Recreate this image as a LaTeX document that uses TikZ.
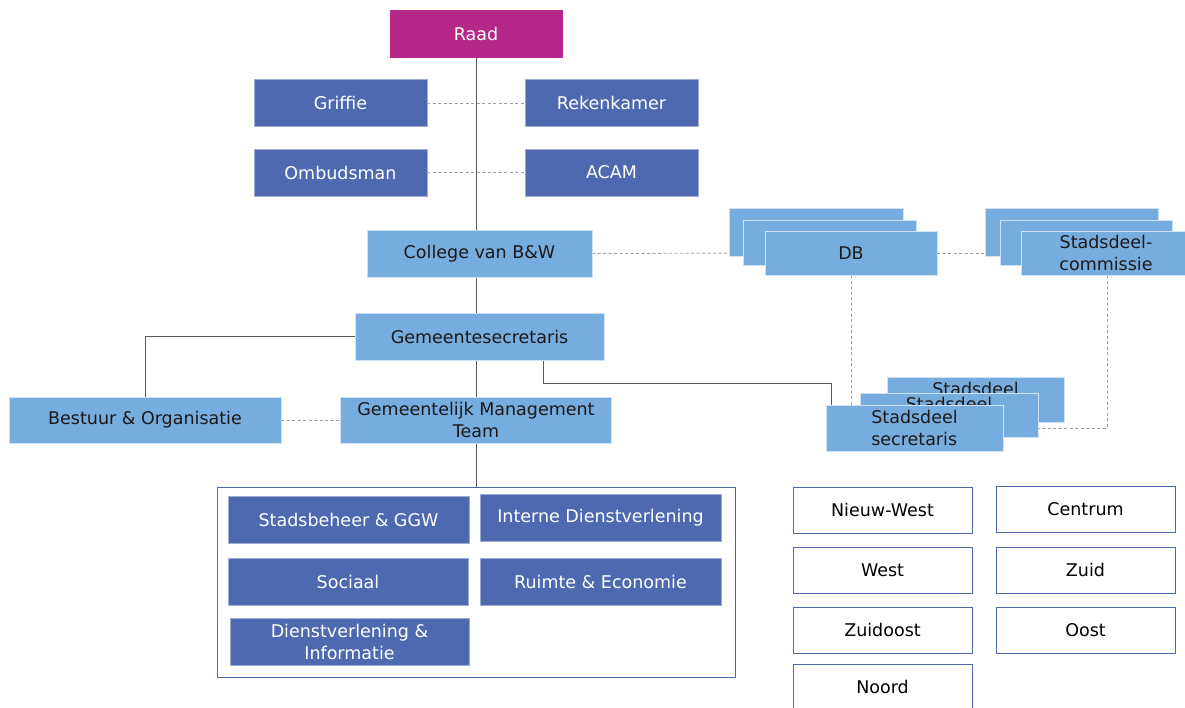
\documentclass[tikz,border=0pt]{standalone}
\usepackage{fontspec}
\setmainfont{DejaVu Sans}
\usetikzlibrary{positioning, backgrounds}

\definecolor{raadrood}{RGB}{181,40,138}
\definecolor{donkerblauw}{RGB}{79,105,176}
\definecolor{lichtblauw}{RGB}{119,173,222}

\begin{document}
\begin{tikzpicture}[x=1pt, y=-1pt,
  blok/.style={rectangle, inner sep=0pt, align=center,
    font=\fontsize{17.5}{22}\selectfont, minimum height=47pt},
  raad/.style={blok, fill=raadrood, draw=raadrood, text=white, minimum width=172pt},
  donker/.style={blok, fill=donkerblauw, draw=donkerblauw!55!white, text=white},
  licht/.style={blok, fill=lichtblauw, draw=lichtblauw!35!white, text=black!90},
  wijk/.style={blok, fill=white, draw=donkerblauw, minimum width=179pt, minimum height=46pt},
  lijn/.style={draw=black!65, line width=0.8pt},
  stippel/.style={draw=black!38, line width=0.9pt, dash pattern=on 3pt off 2.5pt}
]

\useasboundingbox (0,0) rectangle (1185,708);

% Raad and its direct bodies
\node[raad] (raad) at (476,33.5) {Raad};
\node[donker, minimum width=173pt] (griffie) at (340.5,103) {Griffie};
\node[donker, minimum width=173pt] (rekenkamer) at (611.5,103) {Rekenkamer};
\node[donker, minimum width=173pt] (ombudsman) at (340.5,172.5) {Ombudsman};
\node[donker, minimum width=173pt] (acam) at (611.5,172.5) {ACAM};

% College and ambtelijke top
\node[licht, minimum width=225pt] (college) at (479.5,253.5) {College van B\&W};
\node[licht, minimum width=249pt] (gs) at (479.5,336.5) {Gemeentesecretaris};
\node[licht, minimum width=272pt, minimum height=46pt] (bo) at (145,420) {Bestuur \& Organisatie};
\node[licht, minimum width=271pt, minimum height=46pt] (gmt) at (476,420)
  {Gemeentelijk Management\\Team};

% Directies
\node[draw=donkerblauw, line width=0.8pt, minimum width=518pt, minimum height=190pt,
  inner sep=0pt] (directies) at (476,582) {};
\node[donker, minimum width=241pt] (stadsbeheer) at (348.5,519.5) {Stadsbeheer \& GGW};
\node[donker, minimum width=241pt] (interne) at (600.5,518) {Interne Dienstverlening};
\node[donker, minimum width=240pt] (sociaal) at (348,582) {Sociaal};
\node[donker, minimum width=241pt] (ruimte) at (600.5,582) {Ruimte \& Economie};
\node[donker, minimum width=239pt] (dienstinfo) at (349.5,641.5)
  {Dienstverlening \&\\Informatie};

% Stadsdelen: DB
\node[licht, minimum width=174pt, minimum height=48pt] (dbA) at (816,232) {};
\node[licht, minimum width=173pt, minimum height=45pt] (dbB) at (829.5,242.5) {};
\node[licht, minimum width=172pt, minimum height=44pt] (dbC) at (851,253) {DB};

% Stadsdelen: commissie
\node[licht, minimum width=173pt, minimum height=48pt] (sdcA) at (1071.5,232) {};
\node[licht, minimum width=172pt, minimum height=45pt] (sdcB) at (1086,242.5) {};
\node[licht, minimum width=170pt, minimum height=44pt] (sdcC) at (1106,253)
  {Stadsdeel-\\commissie};

% Stadsdelen: secretaris
\node[licht, minimum width=177pt, minimum height=45pt, align=left] (sdsA) at (975.5,399.5)
  {Stadsdeel\\secretaris};
\node[licht, minimum width=178pt, minimum height=44pt, align=left] (sdsB) at (949,415)
  {Stadsdeel\\secretaris};
\node[licht, minimum width=177pt, minimum height=46pt, align=left] (sdsC) at (914.5,428)
  {Stadsdeel\\secretaris};

% Stadsdelen
\node[wijk] (nieuwwest) at (882.5,510) {Nieuw-West};
\node[wijk] (centrum) at (1085.5,509.5) {Centrum};
\node[wijk] (west) at (882.5,570) {West};
\node[wijk] (zuid) at (1085.5,570) {Zuid};
\node[wijk] (zuidoost) at (882.5,630) {Zuidoost};
\node[wijk] (oost) at (1085.5,630) {Oost};
\node[wijk] (noord) at (882.5,687) {Noord};

% Lines
\begin{scope}[on background layer]
\draw[lijn] (raad.south) -- (raad.south |- college.north);
\draw[lijn] (raad.south |- college.south) -- (raad.south |- gs.north);
\draw[lijn] (raad.south |- gs.south) -- (gmt.north);
\draw[lijn] (gs.west) -| (bo.north);
\draw[lijn] (gmt.south) -- (gmt.south |- directies.north);
\draw[lijn] ([xshift=64pt]gs.south) -- ++(0,23) -| ([xshift=6pt]sdsC.north west);

\draw[stippel] (griffie) -- (rekenkamer);
\draw[stippel] (ombudsman) -- (acam);
\draw[stippel] (bo) -- (gmt);
\draw[stippel] (college.east) -- (dbC.west);
\draw[stippel] (dbC.east) -- (sdcA.west |- dbC.east);
\draw[stippel] (dbC.south) -- (dbC.south |- sdsC.north);
\draw[stippel] ([xshift=1pt]sdcC.south) |- (sdsC.east);
\end{scope}

\end{tikzpicture}
\end{document}
